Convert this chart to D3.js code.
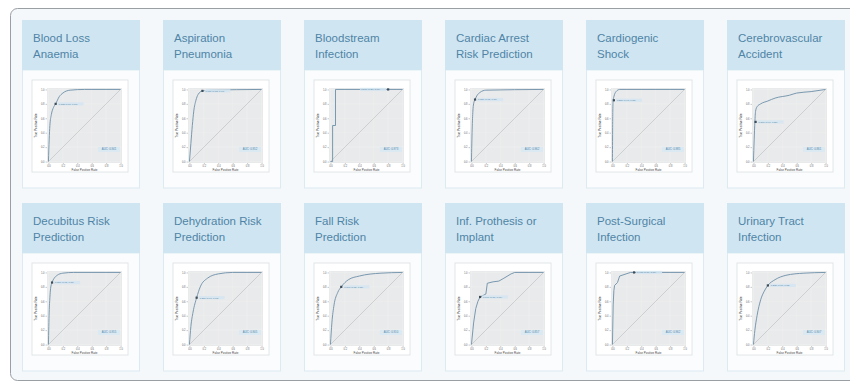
<!DOCTYPE html>
<html><head><meta charset="utf-8">
<script src="https://cdn.jsdelivr.net/npm/d3@7"></script>
<style>
html,body{margin:0;padding:0;background:#fff;}
svg{display:block;}
</style></head>
<body>
<svg id="c" width="850" height="382"></svg>
<script>
// ---- data ----
const titles = [
  ["Blood Loss","Anaemia"],
  ["Aspiration","Pneumonia"],
  ["Bloodstream","Infection"],
  ["Cardiac Arrest","Risk Prediction"],
  ["Cardiogenic","Shock"],
  ["Cerebrovascular","Accident"],
  ["Decubitus Risk","Prediction"],
  ["Dehydration Risk","Prediction"],
  ["Fall Risk","Prediction"],
  ["Inf. Prothesis or","Implant"],
  ["Post-Surgical","Infection"],
  ["Urinary Tract","Infection"]
];
const rocFPR = [
  [0,0.01,0.02,0.04,0.07,0.10,0.15,0.20,0.30,0.50,1],
  [0,0.02,0.04,0.06,0.09,0.12,0.18,0.30,1],
  [0,0.03,0.03,0.07,0.07,1],
  [0,0.01,0.02,0.03,0.05,0.08,0.12,0.20,1],
  [0,0.005,0.01,0.02,0.05,0.10,1],
  [0,0.01,0.02,0.03,0.05,0.10,0.20,0.30,0.50,0.60,0.80,1],
  [0,0.01,0.02,0.03,0.05,0.08,0.12,0.20,0.35,1],
  [0,0.02,0.05,0.10,0.15,0.25,0.40,0.60,1],
  [0,0.02,0.05,0.10,0.15,0.25,0.40,0.70,1],
  [0,0.03,0.06,0.09,0.12,0.20,0.22,0.30,0.38,0.45,0.55,0.60,1],
  [0,0.01,0.02,0.03,0.07,0.10,0.25,1],
  [0,0.02,0.05,0.10,0.15,0.20,0.30,0.45,0.70,1]
];
const rocTPR = [
  [0,0.30,0.50,0.65,0.75,0.80,0.90,0.95,0.99,1,1],
  [0,0.25,0.50,0.70,0.85,0.93,0.98,0.99,1],
  [0,0,0.50,0.50,1,1],
  [0,0.45,0.70,0.80,0.86,0.92,0.96,0.99,1],
  [0,0.70,0.85,0.90,0.97,1,1],
  [0,0.30,0.55,0.70,0.76,0.80,0.84,0.88,0.92,0.95,0.97,1],
  [0,0.45,0.65,0.78,0.86,0.92,0.96,0.99,1,1],
  [0,0.25,0.45,0.65,0.80,0.92,0.98,1,1],
  [0,0.30,0.55,0.72,0.80,0.90,0.95,0.99,1],
  [0,0.30,0.50,0.60,0.66,0.70,0.85,0.87,0.88,0.92,0.98,1,1],
  [0,0.55,0.75,0.82,0.86,0.95,1,1],
  [0,0.20,0.40,0.62,0.74,0.82,0.90,0.96,0.99,1]
];
const markerFPR = [0.10,0.18,0.80,0.05,0.02,0.03,0.05,0.10,0.15,0.12,0.30,0.20];
const markerTPR = [0.80,0.98,1.00,0.86,0.85,0.55,0.86,0.65,0.80,0.66,1.00,0.82];
const thresholds = ["0.182 (0.86, 0.80)","0.071 (0.82, 0.98)","0.500 (0.20, 1.00)","0.120 (0.95, 0.86)",
  "0.250 (0.98, 0.85)","0.310 (0.97, 0.55)","0.150 (0.95, 0.86)","0.210 (0.90, 0.65)",
  "0.190 (0.85, 0.80)","0.090 (0.88, 0.66)","0.400 (0.70, 1.00)","0.230 (0.80, 0.82)"];
const aucLabels = ["AUC: 0.941","AUC: 0.952","AUC: 0.973","AUC: 0.962","AUC: 0.985","AUC: 0.861",
  "AUC: 0.955","AUC: 0.905","AUC: 0.910","AUC: 0.857","AUC: 0.962","AUC: 0.907"];
const tickValues = [0,0.2,0.4,0.6,0.8,1.0];
const tickLabels = ["0.0","0.2","0.4","0.6","0.8","1.0"];
const xAxisTitle = "False Positive Rate";
const yAxisTitle = "True Positive Rate";

// ---- layout ----
const svg = d3.select("#c");
svg.append("rect").attr("x",10.5).attr("y",8.5).attr("width",860).attr("height",372)
  .attr("rx",7).attr("fill","#f4f8fa").attr("stroke","#9a9fa3").attr("stroke-width",1);

const colX = d3.scaleLinear().domain([0,5]).range([22,727]);
const rowY = [20,203];
const cardW = 118, headH = 50, bodyH = 118;

titles.forEach((t,i)=>{
  const col = i%6, row = Math.floor(i/6);
  const g = svg.append("g").attr("transform",`translate(${colX(col)},${rowY[row]})`);
  // body
  g.append("rect").attr("x",0.5).attr("y",headH).attr("width",cardW-1).attr("height",bodyH)
    .attr("fill","#fafcfd").attr("stroke","#dcebf2");
  // header
  g.append("rect").attr("x",0).attr("y",0).attr("width",cardW).attr("height",headH).attr("fill","#cfe6f2");
  g.append("text").attr("x",11).attr("y",22).text(t[0])
    .attr("font-family","Liberation Sans, Arial, sans-serif").attr("font-size",11.5).attr("fill","#4f84a6");
  g.append("text").attr("x",11).attr("y",38).text(t[1])
    .attr("font-family","Liberation Sans, Arial, sans-serif").attr("font-size",11.5).attr("fill","#4f84a6");

  // chart box
  const cb = g.append("g").attr("transform",`translate(10,${headH+10})`);
  const bw = 96, bh = 92;
  cb.append("rect").attr("width",bw).attr("height",bh).attr("fill","#ffffff").attr("stroke","#e2e6e8");
  const m = {l:15,r:6,t:8,b:9};
  const pw = bw-m.l-m.r, ph = bh-m.t-m.b;
  const p = cb.append("g").attr("transform",`translate(${m.l},${m.t})`);
  const x = d3.scaleLinear().domain([-0.02,1.02]).range([0,pw]);
  const y = d3.scaleLinear().domain([-0.02,1.02]).range([ph,0]);
  p.append("rect").attr("width",pw).attr("height",ph).attr("fill","#e9eaeb");
  // faint grid
  p.selectAll("line.gx").data(tickValues).join("line")
    .attr("x1",d=>x(d)).attr("x2",d=>x(d)).attr("y1",0).attr("y2",ph)
    .attr("stroke","#f3f3f3").attr("stroke-width",0.4);
  p.selectAll("line.gy").data(tickValues).join("line")
    .attr("y1",d=>y(d)).attr("y2",d=>y(d)).attr("x1",0).attr("x2",pw)
    .attr("stroke","#f3f3f3").attr("stroke-width",0.4);
  // axes
  const xa = d3.axisBottom(x).tickValues(tickValues).tickFormat((d,k)=>tickLabels[k]).tickSize(1.5).tickPadding(1);
  const ya = d3.axisLeft(y).tickValues(tickValues).tickFormat((d,k)=>tickLabels[k]).tickSize(1.5).tickPadding(1);
  const gx = p.append("g").attr("transform",`translate(0,${ph})`).call(xa);
  const gy = p.append("g").call(ya);
  [gx,gy].forEach(a=>{
    a.select(".domain").remove();
    a.selectAll("line").attr("stroke","#777").attr("stroke-width",0.4);
    a.selectAll("text").attr("font-size",2.6).attr("fill","#666").attr("font-family","Liberation Sans, Arial");
  });
  p.append("text").attr("x",pw/2).attr("y",ph+7.5).attr("text-anchor","middle").text(xAxisTitle)
    .attr("font-size",3).attr("fill","#444").attr("font-family","Liberation Sans, Arial");
  p.append("text").attr("transform",`translate(-10,${ph/2}) rotate(-90)`).attr("text-anchor","middle").text(yAxisTitle)
    .attr("font-size",3).attr("fill","#444").attr("font-family","Liberation Sans, Arial");
  // diagonal
  p.append("line").attr("x1",x(0)).attr("y1",y(0)).attr("x2",x(1)).attr("y2",y(1))
    .attr("stroke","#b9bcc0").attr("stroke-width",0.6);
  // roc curve
  const pts = rocFPR[i].map((f,k)=>[f,rocTPR[i][k]]);
  const line = d3.line().x(d=>x(d[0])).y(d=>y(d[1]))
    .curve(i===2||i===9||i===10 ? d3.curveLinear : d3.curveMonotoneX);
  p.append("path").datum(pts).attr("d",line).attr("fill","none").attr("stroke","#6c8fa8").attr("stroke-width",0.9);
  // marker & threshold label
  const mx = x(markerFPR[i]), my = y(markerTPR[i]);
  const lw = 26;
  const lx = i===2 ? mx-lw-2 : mx+2;
  p.append("rect").attr("x",lx).attr("y",my-1.6).attr("width",lw).attr("height",3.2).attr("fill","#d5e6f1").attr("opacity",0.9);
  p.append("text").attr("x",lx+1).attr("y",my+0.9).text(thresholds[i]).attr("font-size",2.4).attr("fill","#4f84a6")
    .attr("font-family","Liberation Sans, Arial");
  p.append("rect").attr("x",mx-1.1).attr("y",my-1.1).attr("width",2.2).attr("height",2.2).attr("fill","#3c4c58");
  // auc box
  p.append("rect").attr("x",pw-24).attr("y",ph-16).attr("width",22).attr("height",5).attr("fill","#dbe9f2");
  p.append("text").attr("x",pw-13).attr("y",ph-12.6).attr("text-anchor","middle").text(aucLabels[i])
    .attr("font-size",2.8).attr("fill","#4f84a6").attr("font-family","Liberation Sans, Arial");
});
</script>
</body></html>
